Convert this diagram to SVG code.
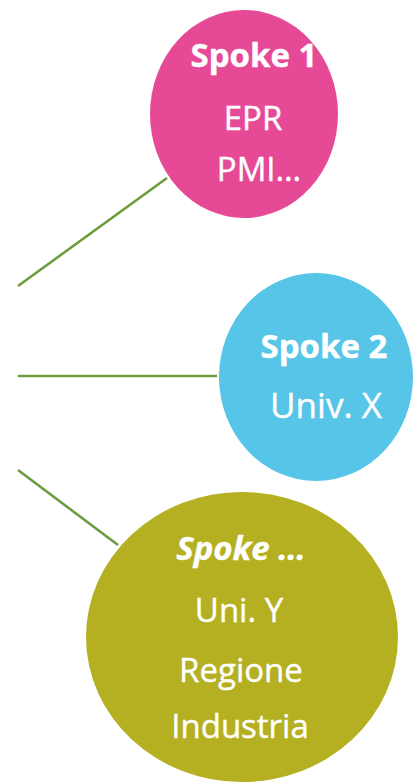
<svg xmlns="http://www.w3.org/2000/svg" width="413" height="782" viewBox="0 0 413 782">
<style>
.l{stroke:#6B9B3A;stroke-width:2.5;fill:none}
text{font-family:"Open Sans","Liberation Sans",sans-serif;fill:#fff;text-anchor:middle;font-size:33px;stroke:#fff;stroke-width:0.4}
.b{font-weight:bold}
.i{font-style:italic}
</style>
<rect width="413" height="782" fill="#fff"/>
<g id="connectors">
<line class="l" x1="18" y1="286" x2="167" y2="178"/>
<line class="l" x1="18" y1="376" x2="217" y2="376"/>
<line class="l" x1="18" y1="470" x2="118" y2="545"/>
</g>
<g id="spoke1">
<ellipse cx="244" cy="114" rx="94" ry="104" fill="#E64A97"/>
<text class="b" x="254" y="67">Spoke 1</text>
<text x="253" y="130">EPR</text>
<text x="259" y="181">PMI…</text>
</g>
<g id="spoke2">
<ellipse cx="316" cy="377" rx="97" ry="104" fill="#56C5E8"/>
<text class="b" x="324" y="358">Spoke 2</text>
<text x="326" y="418" style="font-size:35px">Univ. X</text>
</g>
<g id="spoke3">
<ellipse cx="242" cy="637" rx="156" ry="145" fill="#B5B021"/>
<text class="b i" x="241" y="560">Spoke …</text>
<text x="239" y="622">Uni. Y</text>
<text x="241" y="682">Regione</text>
<text x="240" y="738">Industria</text>
</g>
</svg>
